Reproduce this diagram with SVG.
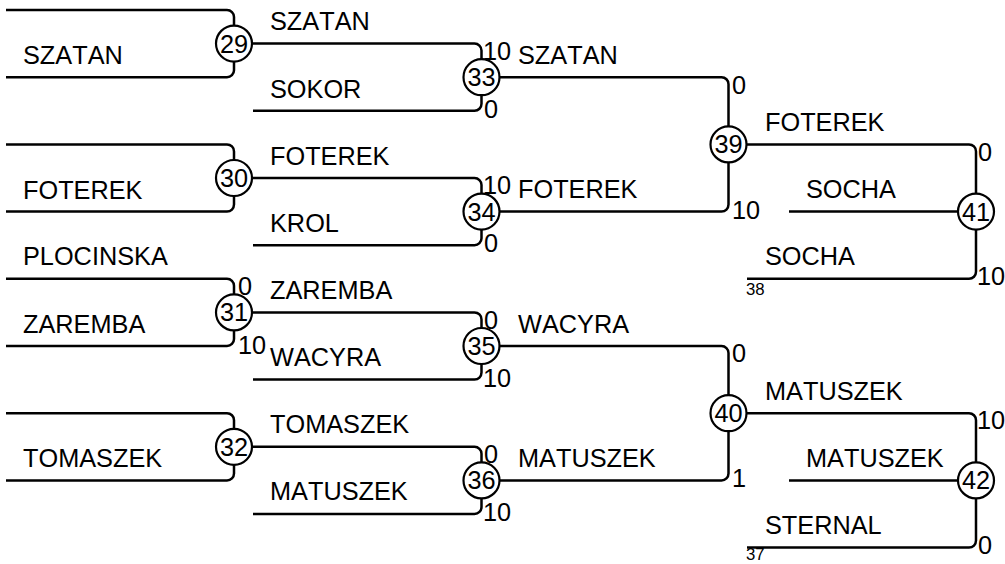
<svg xmlns="http://www.w3.org/2000/svg" width="1005" height="564" viewBox="0 0 1005 564">
<style>
text{font-family:"Liberation Sans",Arial,sans-serif;font-size:25.3px;font-kerning:none;fill:#000}
.sm{font-size:16.8px}
.ln{fill:none;stroke:#000;stroke-width:2.5;stroke-linejoin:round}
circle{fill:#fff;stroke:#000;stroke-width:2.2}
.num{text-anchor:middle}
</style>
<rect width="1005" height="564" fill="#fff"/>
<g id="connectors" class="ln">
<path d="M6 10 H227 A7 7 0 0 1 234 17 V25.6 M6 77.2 H227 A7 7 0 0 0 234 70.2 V61.6"/>
<path d="M6 144.4 H227 A7 7 0 0 1 234 151.4 V160 M6 211.6 H227 A7 7 0 0 0 234 204.6 V196"/>
<path d="M6 278.8 H227 A7 7 0 0 1 234 285.8 V294.4 M6 346 H227 A7 7 0 0 0 234 339 V330.4"/>
<path d="M6 413.2 H227 A7 7 0 0 1 234 420.2 V428.8 M6 480.4 H227 A7 7 0 0 0 234 473.4 V464.8"/>
<path d="M252 43.6 H474.5 A7 7 0 0 1 481.5 50.6 V59.2 M253 110.8 H474.5 A7 7 0 0 0 481.5 103.8 V95.2"/>
<path d="M252 178 H474.5 A7 7 0 0 1 481.5 185 V193.6 M253 245.2 H474.5 A7 7 0 0 0 481.5 238.2 V229.6"/>
<path d="M252 312.4 H474.5 A7 7 0 0 1 481.5 319.4 V328 M253 379.6 H474.5 A7 7 0 0 0 481.5 372.6 V364"/>
<path d="M252 446.8 H474.5 A7 7 0 0 1 481.5 453.8 V462.4 M253 514 H474.5 A7 7 0 0 0 481.5 507 V498.4"/>
<path d="M499.5 77.2 H721.5 A7 7 0 0 1 728.5 84.2 V126.4 M499.5 211.6 H721.5 A7 7 0 0 0 728.5 204.6 V162.4"/>
<path d="M499.5 346 H721.5 A7 7 0 0 1 728.5 353 V395.2 M499.5 480.4 H721.5 A7 7 0 0 0 728.5 473.4 V431.2"/>
<path d="M746.5 144.4 H969 A7 7 0 0 1 976 151.4 V193.6 M789 211.6 H958 M747 278.8 H969 A7 7 0 0 0 976 271.8 V229.6"/>
<path d="M746.5 413.2 H969 A7 7 0 0 1 976 420.2 V462.4 M789 480.4 H958 M747 547.6 H969 A7 7 0 0 0 976 540.6 V498.4"/>
</g>
<g id="n29"><circle cx="234" cy="43.6" r="18"/><text class="num" x="234" y="52.6">29</text></g>
<g id="n30"><circle cx="234" cy="178" r="18"/><text class="num" x="234" y="187">30</text></g>
<g id="n31"><circle cx="234" cy="312.4" r="18"/><text class="num" x="234" y="321.4">31</text><text x="238" y="294.5">0</text><text x="238" y="353.5">10</text></g>
<g id="n32"><circle cx="234" cy="446.8" r="18"/><text class="num" x="234" y="455.8">32</text></g>
<g id="n33"><circle cx="481.5" cy="77.2" r="18"/><text class="num" x="481.5" y="86.2">33</text><text x="483" y="59.5">10</text><text x="484" y="117.5">0</text></g>
<g id="n34"><circle cx="481.5" cy="211.6" r="18"/><text class="num" x="481.5" y="220.6">34</text><text x="483" y="194">10</text><text x="484" y="252">0</text></g>
<g id="n35"><circle cx="481.5" cy="346" r="18"/><text class="num" x="481.5" y="355">35</text><text x="484" y="328.5">0</text><text x="483" y="386.5">10</text></g>
<g id="n36"><circle cx="481.5" cy="480.4" r="18"/><text class="num" x="481.5" y="489.4">36</text><text x="484" y="463">0</text><text x="483" y="521">10</text></g>
<g id="n39"><circle cx="728.5" cy="144.4" r="18"/><text class="num" x="728.5" y="153.4">39</text><text x="732" y="93.5">0</text><text x="732" y="218.5">10</text></g>
<g id="n40"><circle cx="728.5" cy="413.2" r="18"/><text class="num" x="728.5" y="422.2">40</text><text x="732" y="362">0</text><text x="732" y="487">1</text></g>
<g id="n41"><circle cx="976" cy="211.6" r="18"/><text class="num" x="976" y="220.6">41</text><text x="978" y="160.5">0</text><text x="977" y="285">10</text></g>
<g id="n42"><circle cx="976" cy="480.4" r="18"/><text class="num" x="976" y="489.4">42</text><text x="977" y="429">10</text><text x="978" y="554">0</text></g>
<g id="labels">
<text x="23" y="64">SZATAN</text>
<text x="23" y="198.5">FOTEREK</text>
<text x="23" y="265">PLOCINSKA</text>
<text x="23" y="333">ZAREMBA</text>
<text x="23" y="467">TOMASZEK</text>
<text x="270" y="30">SZATAN</text>
<text x="270" y="98">SOKOR</text>
<text x="270" y="165">FOTEREK</text>
<text x="270" y="232">KROL</text>
<text x="270" y="299">ZAREMBA</text>
<text x="270" y="366">WACYRA</text>
<text x="270" y="433">TOMASZEK</text>
<text x="270" y="500">MATUSZEK</text>
<text x="518" y="64">SZATAN</text>
<text x="518" y="198">FOTEREK</text>
<text x="518" y="333">WACYRA</text>
<text x="518" y="467">MATUSZEK</text>
<text x="765" y="131">FOTEREK</text>
<text x="806" y="198">SOCHA</text>
<text x="765" y="265">SOCHA</text>
<text x="765" y="400">MATUSZEK</text>
<text x="806" y="467">MATUSZEK</text>
<text x="765" y="534">STERNAL</text>
<text class="sm" x="746" y="295">38</text>
<text class="sm" x="746" y="560">37</text>
</g>
</svg>
